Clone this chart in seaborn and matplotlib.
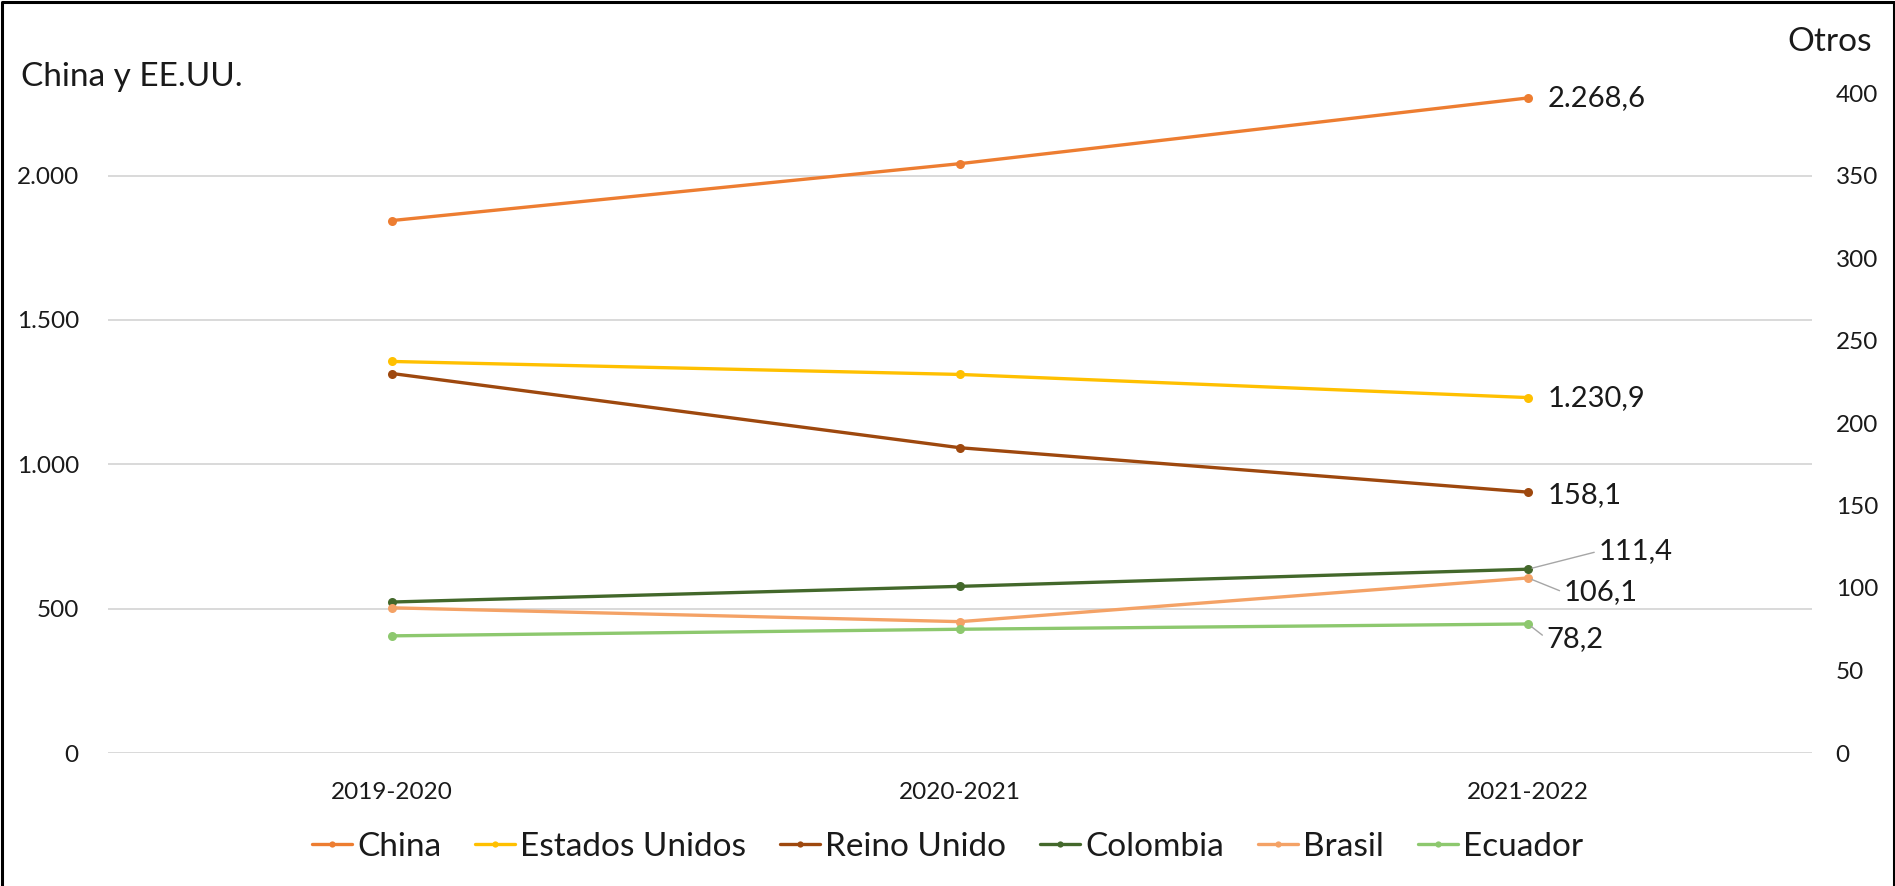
import matplotlib
matplotlib.use("Agg")
import matplotlib.pyplot as plt
import numpy as np
import pandas as pd
import seaborn as sns
from matplotlib.lines import Line2D
from matplotlib.ticker import FuncFormatter, FixedLocator

# ---------------- data ----------------
periods = ["2019-2020", "2020-2021", "2021-2022"]
china = [1844, 2041, 2268.6]
estados_unidos = [1356, 1311, 1230.9]
reino_unido = [230, 185, 158.1]
colombia = [91.5, 101, 111.4]
brasil = [88, 79.6, 106.1]
ecuador = [71, 75, 78.2]

left_names = ["China", "Estados Unidos"]
right_names = ["Reino Unido", "Colombia", "Brasil", "Ecuador"]
series = {
    "China": china,
    "Estados Unidos": estados_unidos,
    "Reino Unido": reino_unido,
    "Colombia": colombia,
    "Brasil": brasil,
    "Ecuador": ecuador,
}
left_ticks = [0, 500, 1000, 1500, 2000]
right_ticks = [0, 50, 100, 150, 200, 250, 300, 350, 400]
left_axis_title = "China y EE.UU."
right_axis_title = "Otros"

colors = {
    "China": "#ED7D31",
    "Estados Unidos": "#FFC000",
    "Reino Unido": "#9E480E",
    "Colombia": "#43682B",
    "Brasil": "#F4A266",
    "Ecuador": "#8DC86E",
}

rows = []
for name, vals in series.items():
    for i, (p, v) in enumerate(zip(periods, vals)):
        rows.append({"pais": name, "idx": i, "periodo": p, "valor": v})
df = pd.DataFrame(rows)
df_left = df[df["pais"].isin(left_names)]
df_right = df[df["pais"].isin(right_names)]

# ---------------- style ----------------
sns.set_style("white")
plt.rcParams["font.family"] = ["Lato", "DejaVu Sans"]
TXT = "#1a1a1a"

W, H = 1895, 886
fig = plt.figure(figsize=(W / 100, H / 100), dpi=100)
ax = fig.add_axes([108 / W, 1 - 753 / H, (1812 - 108) / W, (753 - 93) / H])
ax2 = ax.twinx()

line_kw = dict(marker="o", markersize=6.5, markeredgewidth=0, linewidth=2.4, sort=False, legend=False)
sns.lineplot(data=df_left, x="idx", y="valor", hue="pais", hue_order=left_names,
             palette=colors, ax=ax, **line_kw)
sns.lineplot(data=df_right, x="idx", y="valor", hue="pais", hue_order=right_names,
             palette=colors, ax=ax2, **line_kw)

ax.set_xlim(-0.5, len(periods) - 0.5)
ax.set_ylim(0, left_ticks[-1] * right_ticks[-1] / right_ticks[-2])
ax2.set_ylim(0, right_ticks[-1])

ax.set_xticks(range(len(periods)))
ax.set_xticklabels(periods)
ax.yaxis.set_major_locator(FixedLocator(left_ticks))
ax2.yaxis.set_major_locator(FixedLocator(right_ticks))


def es_int(v, pos=None):
    return f"{int(round(v)):,}".replace(",", ".")


def es_dec(v):
    return f"{v:,.1f}".replace(",", "X").replace(".", ",").replace("X", ".")


ax.yaxis.set_major_formatter(FuncFormatter(es_int))
ax2.yaxis.set_major_formatter(FuncFormatter(es_int))

ax.set_xlabel("")
ax.set_ylabel("")
ax2.set_xlabel("")
ax2.set_ylabel("")

ax.grid(axis="y", color="#d9d9d9", linewidth=1.4)
ax.grid(axis="x", visible=False)
ax2.grid(False)
for a in (ax, ax2):
    for s in a.spines.values():
        s.set_visible(False)

ax.tick_params(axis="y", length=0, pad=21, labelsize=17.5, labelcolor=TXT)
ax.tick_params(axis="x", length=0, pad=21, labelsize=17.5, labelcolor=TXT)
ax2.tick_params(axis="y", length=0, pad=17, labelsize=17.5, labelcolor=TXT)

# ---------------- data labels ----------------
last = len(periods) - 1
leader = dict(arrowstyle="-", color="#a6a6a6", lw=1.0, shrinkA=1, shrinkB=3, relpos=(0, 0.5))
label_specs = [
    (ax, "China", (14, 0), False),
    (ax, "Estados Unidos", (14, 0), False),
    (ax2, "Reino Unido", (14, -2), False),
    (ax2, "Colombia", (51, 13), True),
    (ax2, "Brasil", (26, -10.5), True),
    (ax2, "Ecuador", (13.5, -10.5), True),
]
for a, name, off, use_leader in label_specs:
    v = series[name][last]
    a.annotate(es_dec(v), xy=(last, v), xytext=off, textcoords="offset points",
               ha="left", va="center", fontsize=21, color=TXT,
               arrowprops=leader if use_leader else None)

# ---------------- axis titles ----------------
fig.text(21 / W, 1 - 77 / H, left_axis_title, ha="left", va="center", fontsize=24, color=TXT)
fig.text(1872 / W, 1 - 42 / H, right_axis_title, ha="right", va="center", fontsize=24, color=TXT)

# ---------------- legend ----------------
handles = [Line2D([0], [0], color=colors[n], lw=2.4, marker="o", markersize=4.5,
                  markeredgewidth=0) for n in series]
fig.legend(handles, list(series.keys()), loc="center", bbox_to_anchor=(0.5, 1 - 847 / H),
           ncol=6, frameon=False, fontsize=24, handlelength=1.2, handletextpad=0.15,
           columnspacing=1.02, labelcolor=TXT)

# ---------------- frame (left, top, right) ----------------
fig.add_artist(Line2D([1.5 / W, 1.5 / W, 1 - 1.5 / W, 1 - 1.5 / W],
                      [0, 1 - 1.5 / H, 1 - 1.5 / H, 0],
                      transform=fig.transFigure, color="black", lw=2.2))

fig.savefig("out.png", dpi=100)
